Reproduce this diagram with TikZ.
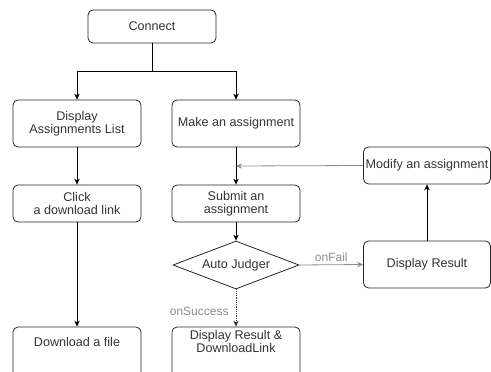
\documentclass[tikz,border=0pt]{standalone}
\usepackage{fontspec}
\setmainfont{Liberation Sans}
\usetikzlibrary{shapes.geometric,arrows.meta}
\begin{document}
\begin{tikzpicture}[x=1pt,y=-1pt,
  txt/.style={text=black!80, font=\fontsize{12.6}{13}\selectfont, align=center},
  box/.style={txt, draw=black!85, line width=0.8pt, rounded corners=5pt, minimum width=128pt, inner sep=0pt},
  judge/.style={txt, draw=black!85, line width=0.8pt, shape=diamond, aspect=2.74, minimum width=126pt, minimum height=48pt, inner sep=0pt},
  tip/.style={-{Stealth[length=6pt,width=5.5pt]}},
  conn/.style={tip, draw=black, line width=0.8pt},
  gconn/.style={tip, draw=black!45, line width=0.8pt},
  dconn/.style={tip, draw=black!80, line width=0.8pt, densely dotted},
  lbl/.style={text=black!45, font=\fontsize{12}{13}\selectfont, inner sep=0pt}
]
\useasboundingbox (0,0) rectangle (491,372);
\clip (0,0) rectangle (491,372);

\node[box, minimum height=33pt] (connect) at (152,26.5) {Connect};
\node[box, minimum height=47pt] (dal) at (77,123.5) {Display\\Assignments List};
\node[box, minimum height=47pt] (make) at (236,123.5) {Make an assignment};
\node[box, minimum width=127pt, minimum height=37pt] (modify) at (427,165.5) {Modify an assignment};
\node[box, minimum height=37pt] (click) at (77,203.5) {Click\\a download link};
\node[box, minimum height=37pt] (submit) at (236,203.5) {Submit an\\assignment};
\node[judge] (judge) at (236,265) {Auto Judger};
\node[box, minimum width=127pt, minimum height=47pt] (result) at (427,264.5) {Display Result};
\node[box, minimum height=58pt] (dlbox) at (77,356) {};
\node[txt] (dltext) at (77,342) {Download a file};
\node[box, minimum height=58pt] (drbox) at (236,356) {};
\node[txt] (drtext) at (236,341.5) {Display Result \&\\DownloadLink};

\coordinate (split) at (152,71);
\coordinate (join) at (236,166);

\draw[conn] (connect.south) -- (split) -| (dal.north);
\draw[conn] (split) -| (make.north);
\draw[conn] (dal.south) -- (click.north);
\draw[conn] (click.south) -- (dlbox.north);
\draw[conn] (make.south) -- (submit.north);
\draw[gconn] (modify.west) -- (join);
\draw[conn] (submit.south) -- (judge.north);
\draw[gconn] (judge.east) -- node[lbl, above=3pt] (onfail) {onFail} (result.west);
\draw[conn] (result.north) -- (modify.south);
\draw[dconn] (judge.south) -- node[lbl, pos=0.58, left=7pt] (onsucc) {onSuccess} (drbox.north);
\end{tikzpicture}
\end{document}
